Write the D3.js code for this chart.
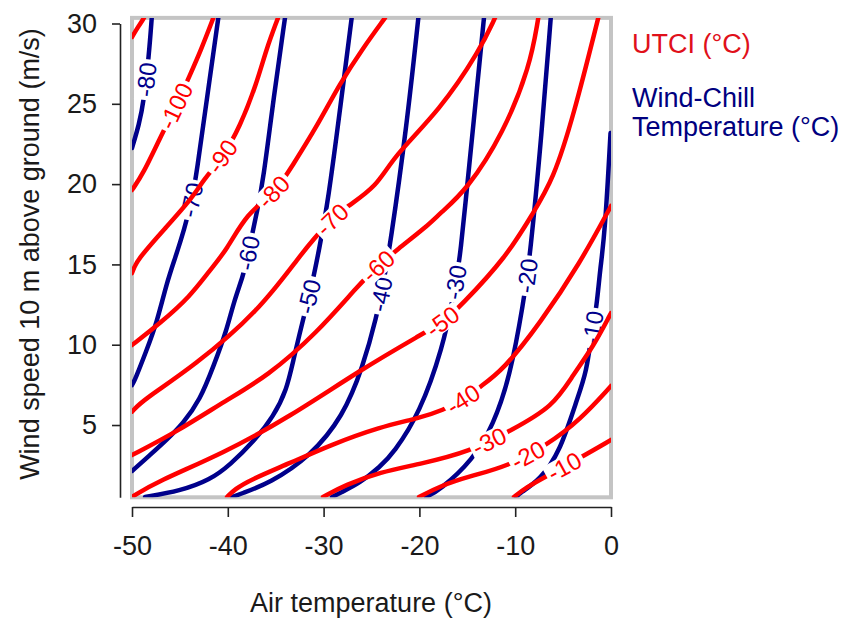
<!DOCTYPE html>
<html>
<head>
<meta charset="utf-8">
<script src="https://cdn.jsdelivr.net/npm/d3@7"></script>
<style>
  body { margin: 0; background: #fff; }
  svg { display: block; }
</style>
</head>
<body>
<div id="chart"></div>
<script>
// Air temperature (°C) vs wind speed 10 m above ground (m/s)
const xTicks = [-50, -40, -30, -20, -10, 0];
const yTicks = [5, 10, 15, 20, 25, 30];
const xLim = [-50, 0];
const yLim = [0.5, 30.35];

// UTCI contours (red), points as [airTemp, wind]
const utciLevels = [-110, -100, -90, -80, -70, -60, -50, -40, -30, -20, -10];
const utciLines = [
  [[-50, 29.16], [-49.37, 29.78], [-48.75, 30.35]],
  [[-50, 19.63], [-48.85, 20.63], [-47.08, 22.87], [-45.41, 24.86], [-43.95, 26.79], [-42.8, 28.35], [-41.51, 30.35]],
  [[-50, 14.46], [-49.51, 15.27], [-46.38, 17.35], [-43.6, 19.22], [-42.56, 20.26], [-40.5, 21.69], [-38.73, 23.57], [-36.98, 26.28], [-36.01, 28.35], [-34.76, 30.35]],
  [[-50, 9.98], [-47.08, 11.33], [-43.95, 12.99], [-41.86, 14.65], [-40.11, 15.9], [-38.03, 18.18], [-35.07, 19.45], [-33.33, 21.08], [-30.72, 23.57], [-28.29, 26.28], [-25.89, 28.47], [-23.59, 30.35]],
  [[-50, 5.83], [-48.85, 6.56], [-43.6, 8.63], [-36.64, 12.16], [-32.46, 15.59], [-29.33, 17.76], [-27.59, 18.59], [-24.46, 19.84], [-22.72, 21.71], [-17.85, 24.61], [-13.67, 28.35], [-12.11, 30.35]],
  [[-50, 3.13], [-45.33, 4.58], [-40.11, 6.56], [-35.94, 8.01], [-30.72, 10.71], [-26.2, 13.82], [-24.32, 14.9], [-22.37, 15.9], [-19.24, 17.35], [-17.85, 18.18], [-15.06, 19.63], [-11.24, 23.16], [-8.46, 27.31], [-7.59, 30.35]],
  [[-50, 0.52], [-47.42, 1.47], [-40.47, 3.24], [-33.51, 5.52], [-26.2, 8.42], [-19.59, 10.71], [-17.54, 11.41], [-15.76, 12.37], [-10.89, 15.48], [-8.14, 18.2], [-6.05, 20.26], [-3.93, 24.2], [-1.33, 30.35]],
  [[-40.08, 0.52], [-39.25, 1.01], [-37.68, 1.58], [-33.51, 2.63], [-29.33, 3.75], [-24.11, 4.89], [-19.94, 5.44], [-17.54, 5.93], [-15.45, 6.56], [-13.67, 7.38], [-11.27, 8.42], [-7.41, 11.33], [-3.24, 15.07], [0, 18.64]],
  [[-30.06, 0.52], [-27.77, 1.26], [-24.11, 2.07], [-19.94, 2.57], [-14.72, 3.34], [-10.37, 4.69], [-6.05, 6.14], [-3.97, 8.11], [-1.85, 9.88], [0, 11.97]],
  [[-20.04, 0.52], [-17.85, 1.2], [-14.72, 1.82], [-10.89, 2.4], [-6.71, 3.75], [-3.24, 5.31], [0, 7.43]],
  [[-10.13, 0.52], [-8.77, 1.14], [-7.1, 1.7], [-3.24, 2.95], [0, 4.07]]
];
const utciLabels = [
  [-100, -45.41, 24.86], [-90, -40.5, 21.69], [-80, -35.07, 19.45], [-70, -29.33, 17.89],
  [-60, -24.32, 14.9], [-50, -17.54, 11.41], [-40, -15.45, 6.56], [-30, -12.42, 3.69],
  [-20, -8.66, 3.07], [-10, -4.8, 2.33]
];

// Wind-chill temperature contours (blue)
const wcLevels = [-80, -70, -60, -50, -40, -30, -20, -10];
const wcLines = [
  [[-47.94, 30.35], [-48.23, 28.04], [-48.75, 25.24], [-49.27, 23.68], [-50, 22.25]],
  [[-40.99, 30.35], [-42.2, 25.24], [-43.25, 20.69], [-43.74, 19.01], [-44.57, 17.14], [-45.46, 15.46], [-46.38, 13.84], [-47.42, 11.35], [-48.47, 9.67], [-49.69, 7.8], [-50, 7.49]],
  [[-34.03, 30.35], [-35.25, 25.24], [-36.29, 20.26], [-36.98, 18.2], [-37.37, 17.14], [-38.0, 15.27], [-38.38, 14.34], [-39.42, 12.58], [-40.11, 10.91], [-41.51, 8.63], [-42.9, 6.56], [-44.65, 5.11], [-46.38, 4.07], [-48.12, 3.13], [-50, 2.14]],
  [[-27.07, 30.35], [-28.29, 24.62], [-29.51, 19.01], [-30.48, 15.9], [-31.21, 13.72], [-32.12, 11.64], [-33.16, 9.05], [-33.85, 7.18], [-35.25, 5.52], [-37.16, 4.07], [-39.77, 2.51], [-41.86, 1.58], [-44.99, 0.89], [-48.64, 0.52]],
  [[-20.11, 30.35], [-21.33, 23.57], [-23.07, 16.1], [-23.75, 13.9], [-24.46, 11.74], [-25.89, 8.63], [-27.97, 5.52], [-31.42, 3.03], [-35.59, 1.39], [-38.73, 0.7], [-39.56, 0.51]],
  [[-13.26, 30.35], [-14.42, 23.38], [-14.95, 20.26], [-15.76, 15.46], [-15.97, 14.84], [-16.49, 12.91], [-17.54, 9.88], [-19.94, 5.75], [-22.72, 3.24], [-24.11, 2.4], [-26.2, 1.39], [-28.29, 0.77], [-29.12, 0.52]],
  [[-6.29, 30.35], [-7.23, 23.16], [-8.45, 15.48], [-9.15, 12.58], [-10.54, 8.01], [-12.29, 5.0], [-14.41, 2.82], [-17.85, 0.96], [-19.31, 0.52]],
  [[-0.05, 23.18], [-0.63, 16.94], [-1.15, 14.65], [-1.49, 12.37], [-1.98, 10.92], [-2.54, 8.3], [-3.58, 6.56], [-5.32, 3.34], [-7.41, 1.58], [-9.5, 0.77], [-9.92, 0.52]]
];
const wcLabels = [
  [-80, -48.43, 26.48], [-70, -43.63, 19.01], [-60, -37.58, 15.65], [-50, -31.21, 12.96],
  [-40, -23.7, 13.09], [-30, -15.61, 13.82], [-20, -8.3, 14.25], [-10, -1.57, 10.98]
];

const width = 849;
const height = 619;
const font = "'Liberation Sans', Arial, sans-serif";
const colUtci = "#ff0000";
const colWc = "#00008b";

const x = d3.scaleLinear().domain([-50, 0]).range([132, 611]);
const y = d3.scaleLinear().domain([0.5, 30]).range([497.3, 23.5]);

const svg = d3
  .select("#chart")
  .append("svg")
  .attr("width", width)
  .attr("height", height)
  .style("background", "#fff")
  .style("font-family", font);

// caja gris del panel
const box = {
  x: x(xLim[0]),
  y: y(yLim[1]),
  w: x(xLim[1]) - x(xLim[0]),
  h: y(yLim[0]) - y(yLim[1]),
};
svg.append("rect")
  .attr("x", box.x).attr("y", box.y)
  .attr("width", box.w).attr("height", box.h)
  .attr("fill", "none")
  .attr("stroke", "#c4c4c4")
  .attr("stroke-width", 4);

svg.append("defs").append("clipPath").attr("id", "plotClip")
  .append("rect")
  .attr("x", box.x).attr("y", box.y)
  .attr("width", box.w).attr("height", box.h);

const line = d3
  .line()
  .x((d) => x(d[0]))
  .y((d) => y(d[1]))
  .curve(d3.curveBasis);

function drawFamily(lines, levels, labels, color, strokeW) {
  const g = svg.append("g").attr("clip-path", "url(#plotClip)");
  const paths = g
    .selectAll("path")
    .data(lines)
    .join("path")
    .attr("d", line)
    .attr("fill", "none")
    .attr("stroke", color)
    .attr("stroke-width", strokeW)
    .attr("stroke-linejoin", "round")
    .attr("stroke-linecap", "round");

  const lab = svg.append("g");
  labels.forEach(([lev, t, v]) => {
    const node = paths.nodes()[levels.indexOf(lev)];
    const total = node.getTotalLength();
    const px = x(t), py = y(v);
    let best = 0, bestD = Infinity;
    for (let s = 0; s <= total; s += 1) {
      const p = node.getPointAtLength(s);
      const d = (p.x - px) ** 2 + (p.y - py) ** 2;
      if (d < bestD) { bestD = d; best = s; }
    }
    const p = node.getPointAtLength(best);
    const a = node.getPointAtLength(Math.max(0, best - 10));
    const b = node.getPointAtLength(Math.min(total, best + 10));
    let ang = (Math.atan2(b.y - a.y, b.x - a.x) * 180) / Math.PI;
    if (ang > 90) ang -= 180;
    if (ang <= -90) ang += 180;

    const gl = lab.append("g").attr("transform", `translate(${p.x},${p.y}) rotate(${ang})`);
    const rect = gl.append("rect").attr("fill", "#fff");
    const txt = gl
      .append("text")
      .attr("text-anchor", "middle")
      .attr("dy", "0.36em")
      .attr("fill", color)
      .attr("font-size", 24)
      .text(String(lev));
    const w = txt.node().getComputedTextLength();
    rect.attr("x", -w / 2 - 3).attr("y", -10).attr("width", w + 6).attr("height", 20);
  });
}

drawFamily(wcLines, wcLevels, wcLabels, colWc, 4.5);
drawFamily(utciLines, utciLevels, utciLabels, colUtci, 4.5);

// ejes
const xAxis = svg
  .append("g")
  .attr("transform", "translate(0,507)")
  .call(d3.axisBottom(x).tickValues(xTicks).tickFormat((d) => String(d))
    .tickSize(10).tickSizeOuter(0).tickPadding(19));
const yAxis = svg
  .append("g")
  .attr("transform", "translate(120,0)")
  .call(d3.axisLeft(y).tickValues(yTicks).tickFormat((d) => String(d))
    .tickSize(8).tickSizeOuter(0).tickPadding(15));

[xAxis, yAxis].forEach((ax) => {
  ax.selectAll(".domain, .tick line").attr("stroke", "#222").attr("stroke-width", 1.6);
  ax.selectAll("text").attr("fill", "#1a1a1a").attr("font-size", 27).attr("font-family", font);
});

// títulos
svg.append("text")
  .attr("x", 371).attr("y", 612)
  .attr("text-anchor", "middle")
  .attr("font-size", 27)
  .attr("fill", "#1a1a1a")
  .text("Air temperature (°C)");

svg.append("text")
  .attr("transform", "translate(39,254) rotate(-90)")
  .attr("text-anchor", "middle")
  .attr("font-size", 27)
  .attr("fill", "#1a1a1a")
  .text("Wind speed 10 m above ground (m/s)");

// leyenda
svg.append("text")
  .attr("x", 632).attr("y", 53)
  .attr("font-size", 27)
  .attr("fill", "#e0101a")
  .text("UTCI (°C)");
svg.append("text")
  .attr("x", 632).attr("y", 107)
  .attr("font-size", 27)
  .attr("fill", "#000080")
  .text("Wind-Chill");
svg.append("text")
  .attr("x", 632).attr("y", 136)
  .attr("font-size", 27)
  .attr("fill", "#000080")
  .text("Temperature (°C)");
</script>
</body>
</html>
